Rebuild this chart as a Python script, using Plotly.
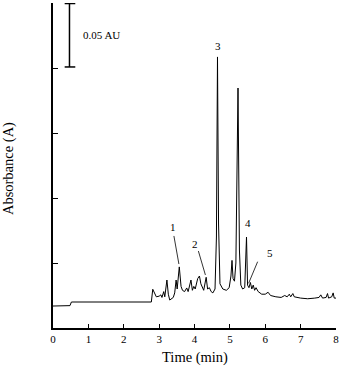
import plotly.graph_objects as go

# Chromatogram trace (time in min, absorbance in AU)
time_min = [0.00, 0.48, 0.52, 2.78, 2.82, 2.86, 2.92, 3.00, 3.05, 3.08, 3.13, 3.16,
            3.22, 3.26, 3.30, 3.40, 3.44, 3.48, 3.51, 3.57, 3.62, 3.66, 3.72, 3.78,
            3.82, 3.90, 3.94, 3.98, 4.02, 4.09, 4.14, 4.18, 4.22, 4.26, 4.33, 4.37,
            4.42, 4.47, 4.52, 4.58, 4.62, 4.65, 4.68, 4.72, 4.80, 4.90, 4.98, 5.03,
            5.06, 5.09, 5.13, 5.17, 5.23, 5.27, 5.31, 5.36, 5.42, 5.47, 5.50, 5.54,
            5.58, 5.62, 5.66, 5.70, 5.74, 5.80, 5.90, 6.00, 6.08, 6.15, 6.30, 6.45,
            6.55, 6.62, 6.68, 6.72, 6.78, 6.82, 7.00, 7.20, 7.40, 7.52, 7.57, 7.62,
            7.72, 7.76, 7.79, 7.88, 7.92, 7.95, 8.00]
absorbance = [0.0169, 0.0172, 0.0200, 0.0200, 0.0298, 0.0270, 0.0240, 0.0245, 0.0255, 0.0235, 0.0280, 0.0240,
              0.0369, 0.0260, 0.0215, 0.0235, 0.0270, 0.0369, 0.0300, 0.0470, 0.0320, 0.0290, 0.0280, 0.0308,
              0.0280, 0.0369, 0.0290, 0.0320, 0.0300, 0.0380, 0.0400, 0.0340, 0.0315, 0.0290, 0.0390, 0.0300,
              0.0310, 0.0280, 0.0270, 0.0300, 0.0700, 0.2085, 0.0800, 0.0340, 0.0300, 0.0290, 0.0310, 0.0400,
              0.0520, 0.0380, 0.0360, 0.0500, 0.1846, 0.0600, 0.0330, 0.0300, 0.0310, 0.0700, 0.0330, 0.0310,
              0.0350, 0.0300, 0.0330, 0.0290, 0.0310, 0.0280, 0.0260, 0.0260, 0.0275, 0.0250, 0.0240, 0.0235,
              0.0250, 0.0240, 0.0260, 0.0240, 0.0265, 0.0240, 0.0230, 0.0225, 0.0230, 0.0235, 0.0255, 0.0230,
              0.0235, 0.0265, 0.0230, 0.0240, 0.0270, 0.0230, 0.0230]

x_ticks = [0, 1, 2, 3, 4, 5, 6, 7, 8]
y_ticks = [0.05, 0.10, 0.15, 0.20, 0.25]

peak_labels = ["1", "2", "3", "4", "5"]
label_t = [3.38, 4.00, 4.655, 5.50, 6.14]
label_a = [0.0777, 0.0646, 0.2169, 0.0810, 0.0574]

x_title = "Time (min)"
y_title = "Absorbance (A)"

FONT = "Liberation Serif, Times New Roman, serif"

fig = go.Figure()
fig.add_trace(go.Scatter(x=time_min, y=absorbance, mode="lines",
                         line=dict(color="black", width=1), showlegend=False,
                         hoverinfo="skip"))

for lab, t, a in zip(peak_labels, label_t, label_a):
    fig.add_annotation(x=t, y=a, text=lab, showarrow=False, xref="x", yref="y",
                       font=dict(family=FONT, size=11, color="black"))

# leader lines for labels 1, 2, 5
leaders = [(3.418, 0.0708, 3.559, 0.0492), (4.11, 0.0592, 4.308, 0.0408), (5.785, 0.0510, 5.53, 0.0344)]
for x0, y0, x1, y1 in leaders:
    fig.add_shape(type="line", x0=x0, y0=y0, x1=x1, y1=y1, xref="x", yref="y",
                  line=dict(color="black", width=0.8))

# scale bar 0.05 AU
fig.add_shape(type="line", x0=0.466, x1=0.466, y0=0.2008, y1=0.2496, xref="x", yref="y",
              line=dict(color="black", width=1.5))
fig.add_shape(type="line", x0=0.33, x1=0.63, y0=0.2008, y1=0.2008, xref="x", yref="y",
              line=dict(color="black", width=1.5))
fig.add_shape(type="line", x0=0.33, x1=0.63, y0=0.2496, y1=0.2496, xref="x", yref="y",
              line=dict(color="black", width=1.5))
fig.add_annotation(x=0.78, y=0.2254, text="0.05 AU", showarrow=False, xanchor="left",
                   xref="x", yref="y", font=dict(family=FONT, size=11, color="black"))

# axis titles
fig.add_annotation(x=0.502, y=-0.092, xref="paper", yref="paper", text=x_title,
                   xanchor="center", yanchor="middle",
                   showarrow=False, font=dict(family=FONT, size=14.5, color="black"))
fig.add_annotation(x=-0.159, y=0.489, xref="paper", yref="paper", text=y_title,
                   xanchor="center", yanchor="middle",
                   textangle=-90, showarrow=False, font=dict(family=FONT, size=14.5, color="black"))

fig.update_layout(
    width=339, height=366,
    margin=dict(l=53, r=3, t=3, b=38),
    paper_bgcolor="white", plot_bgcolor="white",
    font=dict(family=FONT, color="black"),
    xaxis=dict(range=[0, 8], tickvals=x_ticks, ticks="inside", ticklen=4, tickwidth=1,
               tickcolor="black", showline=True, linecolor="black", linewidth=1.5,
               showgrid=False, zeroline=False, tickfont=dict(family=FONT, size=11),
               ticklabeloverflow="allow", automargin=False),
    yaxis=dict(range=[0, 0.25], tickvals=y_ticks, ticks="inside", ticklen=5, tickwidth=1,
               tickcolor="black", showline=True, linecolor="black", linewidth=1.5,
               showgrid=False, zeroline=False, showticklabels=False, automargin=False),
)

fig.write_html("out.html")
